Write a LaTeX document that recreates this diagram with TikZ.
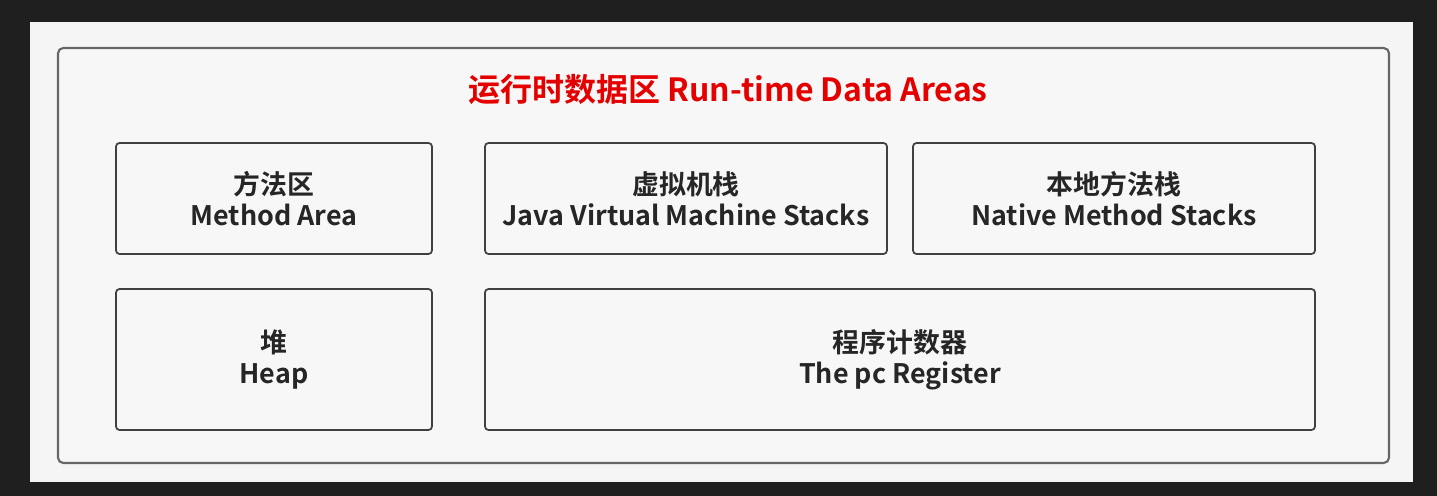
\documentclass[tikz,border=0pt]{standalone}
\usepackage{fontspec}
\setmainfont{Noto Sans CJK SC}[BoldFont={* Bold}]
\begin{document}
\begin{tikzpicture}[x=0.02cm,y=-0.02cm,
  area/.style={draw=black!75,line width=1pt,rounded corners=2pt,fill=white!97!black,font=\bfseries\fontsize{15.3pt}{17.5pt}\selectfont,align=center,text=black!85,inner sep=0pt}]
\fill[black!88] (0,0) rectangle (1437,496);
\useasboundingbox (0,0) rectangle (1437,496);
\fill[white!96!black] (30,22) rectangle (1413,482);
\draw[black!60,line width=1.2pt,rounded corners=3pt,fill=white!97!black] (58,48) rectangle (1389,463);
\node[text=red!90!black,font=\bfseries\fontsize{18.2pt}{22pt}\selectfont] (title) at (728,90) {运行时数据区 Run-time Data Areas};
\node[area,minimum width=316*0.02cm,minimum height=111*0.02cm] (ma) at (274,198.5) {方法区\\Method Area};
\node[area,minimum width=402*0.02cm,minimum height=111*0.02cm] (jvm) at (686,198.5) {虚拟机栈\\Java Virtual Machine Stacks};
\node[area,minimum width=402*0.02cm,minimum height=111*0.02cm] (nms) at (1114,198.5) {本地方法栈\\Native Method Stacks};
\node[area,minimum width=316*0.02cm,minimum height=141*0.02cm] (heap) at (274,359.5) {堆\\Heap};
\node[area,minimum width=830*0.02cm,minimum height=141*0.02cm] (pc) at (900,359.5) {程序计数器\\The pc Register};
\end{tikzpicture}
\end{document}
